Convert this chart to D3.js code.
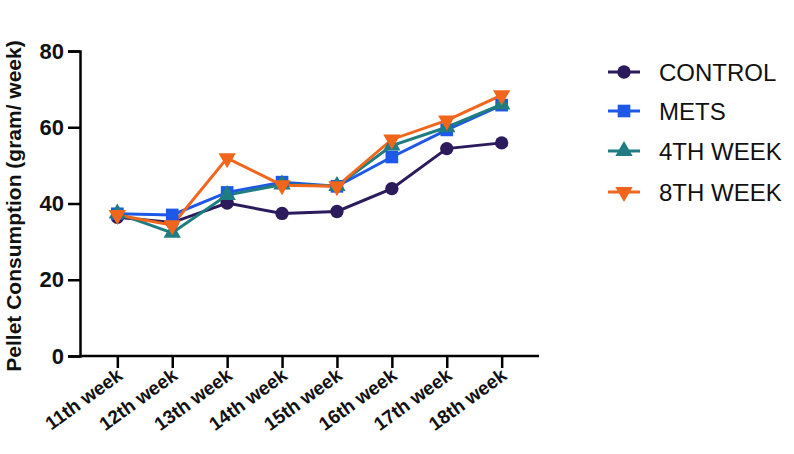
<!DOCTYPE html>
<html>
<head>
<meta charset="utf-8">
<script src="https://cdn.jsdelivr.net/npm/d3@7"></script>
<style>
  body { margin: 0; background: #fff; }
  text { font-family: "Liberation Sans", Arial, sans-serif; }
</style>
</head>
<body>
<svg id="chart"></svg>
<script>
// data
let weeks = ['11th week', '12th week', '13th week', '14th week', '15th week', '16th week', '17th week', '18th week'];
let control = [36.4, 35.0, 40.1, 37.4, 37.9, 43.9, 54.4, 55.9];
let mets = [37.3, 37.0, 42.9, 45.6, 44.5, 52.2, 59.3, 65.8];
let week4 = [37.4, 32.3, 42.2, 45.0, 44.6, 55.2, 60.0, 66.0];
let week8 = [37.0, 34.3, 51.9, 44.8, 44.5, 56.8, 61.8, 68.4];
let yTicks = [0, 20, 40, 60, 80];

let seriesNames = ['CONTROL', 'METS', '4TH WEEK', '8TH WEEK'];
let seriesValues = [control, mets, week4, week8];
let colors = ['#2b1a5c', '#1d58e6', '#1f7c80', '#f2661c'];
let shapes = [d3.symbolCircle, d3.symbolSquare, d3.symbolTriangle, d3.symbolTriangle];

let width = 794, height = 454;
let plot = { left: 80, right: 539, top: 51, bottom: 356 };

let svg = d3.select('#chart').attr('width', width).attr('height', height);

function translate(x, y) {
  return 'translate(' + x + ',' + y + ')';
}

let x = d3.scalePoint().domain(weeks).range([plot.left, plot.right]).padding(0.68);
let y = d3.scaleLinear().domain([0, 80]).range([plot.bottom, plot.top]);

// axes
let yAxis = d3.axisLeft(y).tickValues(yTicks).tickSize(12).tickPadding(4);
let yGroup = svg.append('g').attr('transform', translate(plot.left, 0)).call(yAxis);
yGroup.select('.domain').attr('stroke-width', 2.5);
yGroup.selectAll('.tick line').attr('stroke-width', 2.5);
yGroup.selectAll('.tick text')
  .attr('font-size', 22).attr('font-weight', 'bold').attr('fill', '#111')
  .style('font-family', '"Liberation Sans", Arial, sans-serif');

let xAxis = d3.axisBottom(x).tickSize(12).tickSizeOuter(0);
let xGroup = svg.append('g').attr('transform', translate(0, plot.bottom)).call(xAxis);
xGroup.select('.domain').attr('stroke-width', 2.5)
  .attr('d', 'M' + plot.left + ',0H' + plot.right);
xGroup.selectAll('.tick line').attr('stroke-width', 2.5);
xGroup.selectAll('.tick text')
  .attr('font-size', 19).attr('font-weight', 'bold').attr('fill', '#111')
  .style('font-family', '"Liberation Sans", Arial, sans-serif')
  .attr('text-anchor', 'end')
  .attr('dy', 0).attr('y', 0)
  .attr('transform', 'translate(6,22) rotate(-36)');

// y title
svg.append('text')
  .attr('transform', translate(21, 206) + ' rotate(-90)')
  .attr('text-anchor', 'middle')
  .attr('font-size', 21).attr('font-weight', 'bold').attr('fill', '#111')
  .text('Pellet Consumption (gram/ week)');

// lines and markers
let line = d3.line().x((d, i) => x(weeks[i])).y(d => y(d));

function markerPath(k) {
  let size = k == 0 ? 140 : (k == 1 ? 160 : 130);
  return d3.symbol().type(shapes[k]).size(size)();
}

seriesValues.forEach((vals, k) => {
  svg.append('path')
    .attr('d', line(vals))
    .attr('fill', 'none')
    .attr('stroke', colors[k])
    .attr('stroke-width', 3);
});

seriesValues.forEach((vals, k) => {
  svg.append('g').selectAll('path')
    .data(vals)
    .enter().append('path')
    .attr('d', markerPath(k))
    .attr('transform', (d, i) => translate(x(weeks[i]), y(d)) + (k == 3 ? ' rotate(180)' : ''))
    .attr('fill', colors[k]);
});

// legend
let legendY = [72, 111, 151, 192];
let legend = svg.append('g');
seriesNames.forEach((name, k) => {
  let g = legend.append('g').attr('transform', translate(608, legendY[k]));
  g.append('line').attr('x1', 0).attr('x2', 32).attr('y1', 0).attr('y2', 0)
    .attr('stroke', colors[k]).attr('stroke-width', 3);
  g.append('path').attr('d', markerPath(k))
    .attr('transform', translate(16, 0) + (k == 3 ? ' rotate(180)' : ''))
    .attr('fill', colors[k]);
  g.append('text').attr('x', 51).attr('y', 0).attr('dy', '0.36em')
    .attr('font-size', 24).attr('fill', '#111')
    .text(name);
});
</script>
</body>
</html>
